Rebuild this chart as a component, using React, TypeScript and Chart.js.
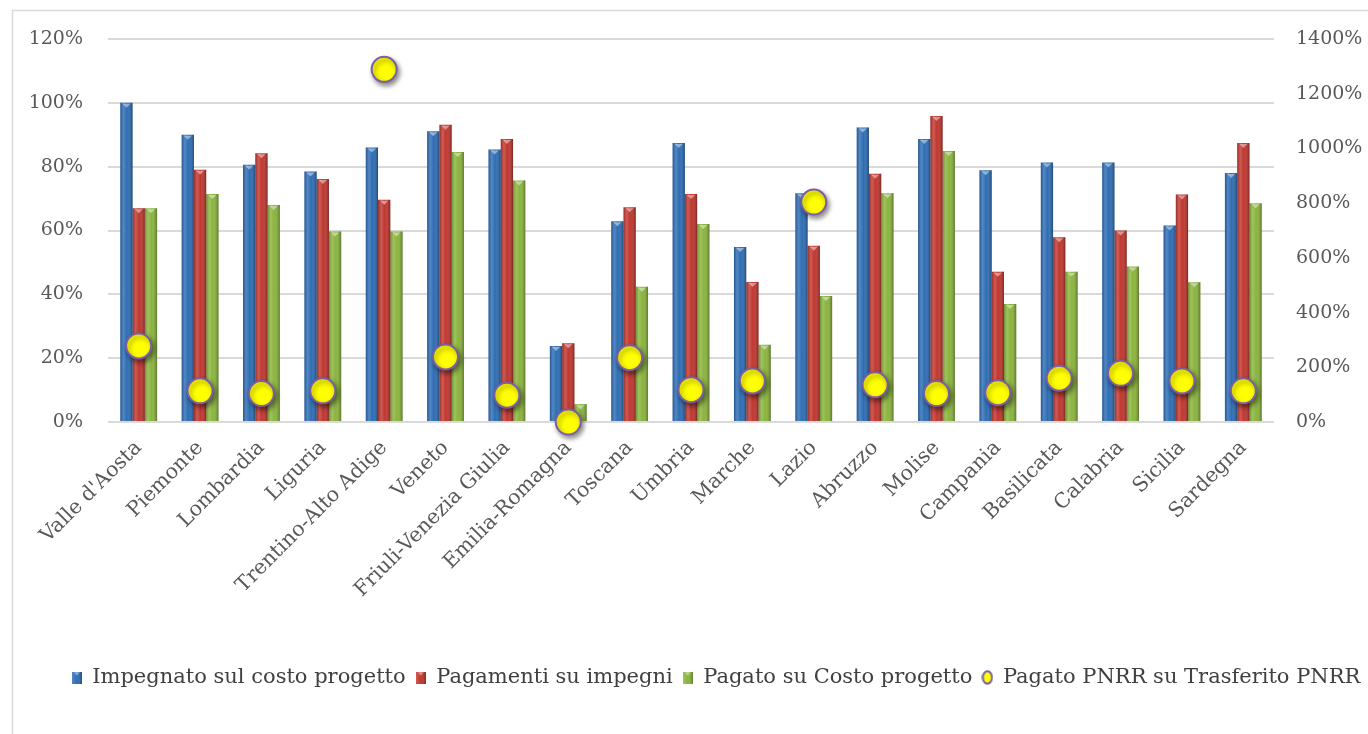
import React, { useEffect, useRef } from "react";
import { Chart, registerables } from "chart.js";

Chart.register(...registerables);

const categories = [
  "Valle d'Aosta", "Piemonte", "Lombardia", "Liguria", "Trentino-Alto Adige", "Veneto",
  "Friuli-Venezia Giulia", "Emilia-Romagna", "Toscana", "Umbria", "Marche", "Lazio",
  "Abruzzo", "Molise", "Campania", "Basilicata", "Calabria", "Sicilia", "Sardegna",
];
const impegnato = [100, 90, 80.6, 78.5, 86, 91.1, 85.4, 23.8, 62.9, 87.4, 54.8, 71.7, 92.3, 88.7, 78.9, 81.3, 81.3, 61.6, 78];
const pagamenti = [67, 79, 84.2, 76.1, 69.6, 93.1, 88.7, 24.7, 67.3, 71.4, 43.9, 55.2, 77.8, 95.9, 47.1, 57.9, 60, 71.3, 87.4];
const pagatoCosto = [67, 71.4, 68, 59.7, 59.7, 84.6, 75.7, 5.6, 42.4, 62, 24.2, 39.5, 71.7, 84.9, 37, 47.1, 48.7, 43.8, 68.5];
const pagatoPnrr = [278, 114, 104, 114, 1289, 238, 98, 0, 235, 118, 150, 804, 136, 104, 107, 160, 178, 150, 114];

const seriesNames = [
  "Impegnato sul costo progetto",
  "Pagamenti su impegni",
  "Pagato su Costo progetto",
  "Pagato PNRR su Trasferito PNRR",
];
const leftTickValues = [0, 20, 40, 60, 80, 100, 120];
const rightTickValues = [0, 200, 400, 600, 800, 1000, 1200, 1400];

const BLUE = "#2E6DB4";
const RED = "#C0372F";
const GREEN = "#8AB43D";
const YELLOW = "#FFFF00";
const PURPLE = "#7B5EA7";
const FONT = "'DejaVu Serif', serif";
const TEXT = "#595959";

function barIcon(color: string) {
  const c = document.createElement("canvas");
  c.width = 10;
  c.height = 12;
  const g = c.getContext("2d")!;
  g.fillStyle = color;
  g.fillRect(0, 0, 10, 12);
  const gr = g.createLinearGradient(0, 0, 10, 0);
  gr.addColorStop(0, "rgba(255,255,255,0.2)");
  gr.addColorStop(0.5, "rgba(255,255,255,0)");
  gr.addColorStop(1, "rgba(0,0,0,0.3)");
  g.fillStyle = gr;
  g.fillRect(0, 0, 10, 12);
  g.fillStyle = "rgba(255,255,255,0.5)";
  g.beginPath();
  g.moveTo(2, 0.5);
  g.lineTo(8, 0.5);
  g.lineTo(5, 4);
  g.closePath();
  g.fill();
  return c;
}

function dotIcon() {
  const c = document.createElement("canvas");
  c.width = 12;
  c.height = 15;
  const g = c.getContext("2d")!;
  g.fillStyle = YELLOW;
  g.strokeStyle = PURPLE;
  g.lineWidth = 2;
  g.beginPath();
  g.ellipse(6, 7.5, 4.6, 6.2, 0, 0, Math.PI * 2);
  g.fill();
  g.stroke();
  return c;
}

const bevelPlugin = {
  id: "bevel",
  afterDatasetDraw(chart: any, args: any) {
    const meta = args.meta;
    if (meta.type !== "bar") return;
    const ctx = chart.ctx;
    ctx.save();
    meta.data.forEach((el: any) => {
      const w = el.width;
      const left = el.x - w / 2;
      const top = Math.min(el.y, el.base);
      const h = Math.abs(el.base - el.y);
      const gr = ctx.createLinearGradient(left, 0, left + w, 0);
      gr.addColorStop(0, "rgba(0,0,0,0.18)");
      gr.addColorStop(0.25, "rgba(255,255,255,0.18)");
      gr.addColorStop(0.55, "rgba(255,255,255,0)");
      gr.addColorStop(1, "rgba(0,0,0,0.35)");
      ctx.fillStyle = gr;
      ctx.fillRect(left, top, w, h);
      ctx.fillStyle = "rgba(255,255,255,0.45)";
      ctx.beginPath();
      ctx.moveTo(el.x - 4, top + 1);
      ctx.lineTo(el.x + 4, top + 1);
      ctx.lineTo(el.x, top + 5);
      ctx.closePath();
      ctx.fill();
    });
    ctx.restore();
  },
};

const shadowPlugin = {
  id: "markerShadow",
  beforeDatasetDraw(chart: any, args: any) {
    if (args.meta.type !== "line") return;
    const ctx = chart.ctx;
    ctx.save();
    ctx.shadowColor = "rgba(0,0,0,0.45)";
    ctx.shadowBlur = 5;
    ctx.shadowOffsetX = 2;
    ctx.shadowOffsetY = 3;
  },
  afterDatasetDraw(chart: any, args: any) {
    if (args.meta.type !== "line") return;
    chart.ctx.restore();
  },
};

const framePlugin = {
  id: "frame",
  beforeDraw(chart: any) {
    const ctx = chart.ctx;
    ctx.save();
    ctx.strokeStyle = "#d9d9d9";
    ctx.lineWidth = 1.5;
    ctx.beginPath();
    ctx.moveTo(12.5, chart.height);
    ctx.lineTo(12.5, 10.5);
    ctx.lineTo(chart.width, 10.5);
    ctx.stroke();
    ctx.restore();
  },
};

// The legend of the original is centred on a frame that runs past the right edge.
const legendShiftPlugin = {
  id: "legendShift",
  afterLayout(chart: any) {
    const lg = chart.legend;
    if (!lg) return;
    lg.left += 32;
    lg.right += 32;
  },
};

export default function App() {
  const ref = useRef<HTMLCanvasElement | null>(null);

  useEffect(() => {
    if (!ref.current) return;
    const icons = [barIcon(BLUE), barIcon(RED), barIcon(GREEN), dotIcon()];
    const chart = new Chart(ref.current, {
      type: "bar",
      data: {
        labels: categories,
        datasets: [
          { type: "bar", label: seriesNames[0], data: impegnato, backgroundColor: BLUE, yAxisID: "y", order: 1 },
          { type: "bar", label: seriesNames[1], data: pagamenti, backgroundColor: RED, yAxisID: "y", order: 1 },
          { type: "bar", label: seriesNames[2], data: pagatoCosto, backgroundColor: GREEN, yAxisID: "y", order: 1 },
          {
            type: "line",
            label: seriesNames[3],
            data: pagatoPnrr,
            yAxisID: "y2",
            showLine: false,
            pointRadius: 12.5,
            pointHoverRadius: 12.5,
            pointBackgroundColor: YELLOW,
            pointBorderColor: PURPLE,
            pointBorderWidth: 2,
            backgroundColor: YELLOW,
            borderColor: PURPLE,
            clip: false,
            order: 0,
          } as any,
        ],
      },
      options: {
        animation: false,
        responsive: false,
        maintainAspectRatio: false,
        layout: { padding: { top: 39, left: 0, right: 0, bottom: 36 } },
        datasets: {
          bar: { categoryPercentage: 0.6, barPercentage: 1.0, borderWidth: 0 },
        },
        plugins: {
          tooltip: { enabled: false },
          legend: {
            position: "bottom",
            align: "center",
            labels: {
              usePointStyle: true,
              boxWidth: 10,
              boxHeight: 14,
              padding: 10,
              color: "#404040",
              font: { family: FONT, size: 21 },
              sort: (a: any, b: any) => a.datasetIndex - b.datasetIndex,
              generateLabels: (chart: any) =>
                chart.data.datasets.map((ds: any, i: number) => ({
                  text: ds.label,
                  datasetIndex: i,
                  pointStyle: icons[i],
                  fillStyle: "transparent",
                  strokeStyle: "transparent",
                  lineWidth: 0,
                  fontColor: "#404040",
                  hidden: false,
                })),
            },
          },
        },
        scales: {
          x: {
            grid: { display: false },
            border: { display: false },
            ticks: {
              minRotation: 45,
              maxRotation: 45,
              autoSkip: false,
              color: TEXT,
              padding: 6,
              font: { family: FONT, size: 20.5 },
            },
            afterFit: (s: any) => {
              s.height = 235;
            },
          },
          y: {
            position: "left",
            min: 0,
            max: 120,
            afterBuildTicks: (s: any) => {
              s.ticks = leftTickValues.map((v) => ({ value: v }));
            },
            grid: { color: "#d9d9d9", lineWidth: 2, drawTicks: false },
            border: { display: false },
            ticks: {
              color: TEXT,
              padding: 25,
              font: { family: FONT, size: 19 },
              callback: (v: any) => v + "%",
            },
            afterFit: (s: any) => {
              s.width = 108;
            },
          },
          y2: {
            position: "right",
            min: 0,
            max: 1400,
            afterBuildTicks: (s: any) => {
              s.ticks = rightTickValues.map((v) => ({ value: v }));
            },
            grid: { display: false, drawTicks: false },
            border: { display: false },
            ticks: {
              color: TEXT,
              padding: 22,
              font: { family: FONT, size: 19 },
              callback: (v: any) => v + "%",
            },
            afterFit: (s: any) => {
              s.width = 94;
            },
          },
        },
      },
      plugins: [framePlugin, bevelPlugin, shadowPlugin, legendShiftPlugin],
    });
    return () => chart.destroy();
  }, []);

  return (
    <div style={{ position: "absolute", left: 0, top: 0, width: 1368, height: 734, background: "#fff" }}>
      <canvas ref={ref} width={1368} height={734} style={{ display: "block" }} />
    </div>
  );
}
